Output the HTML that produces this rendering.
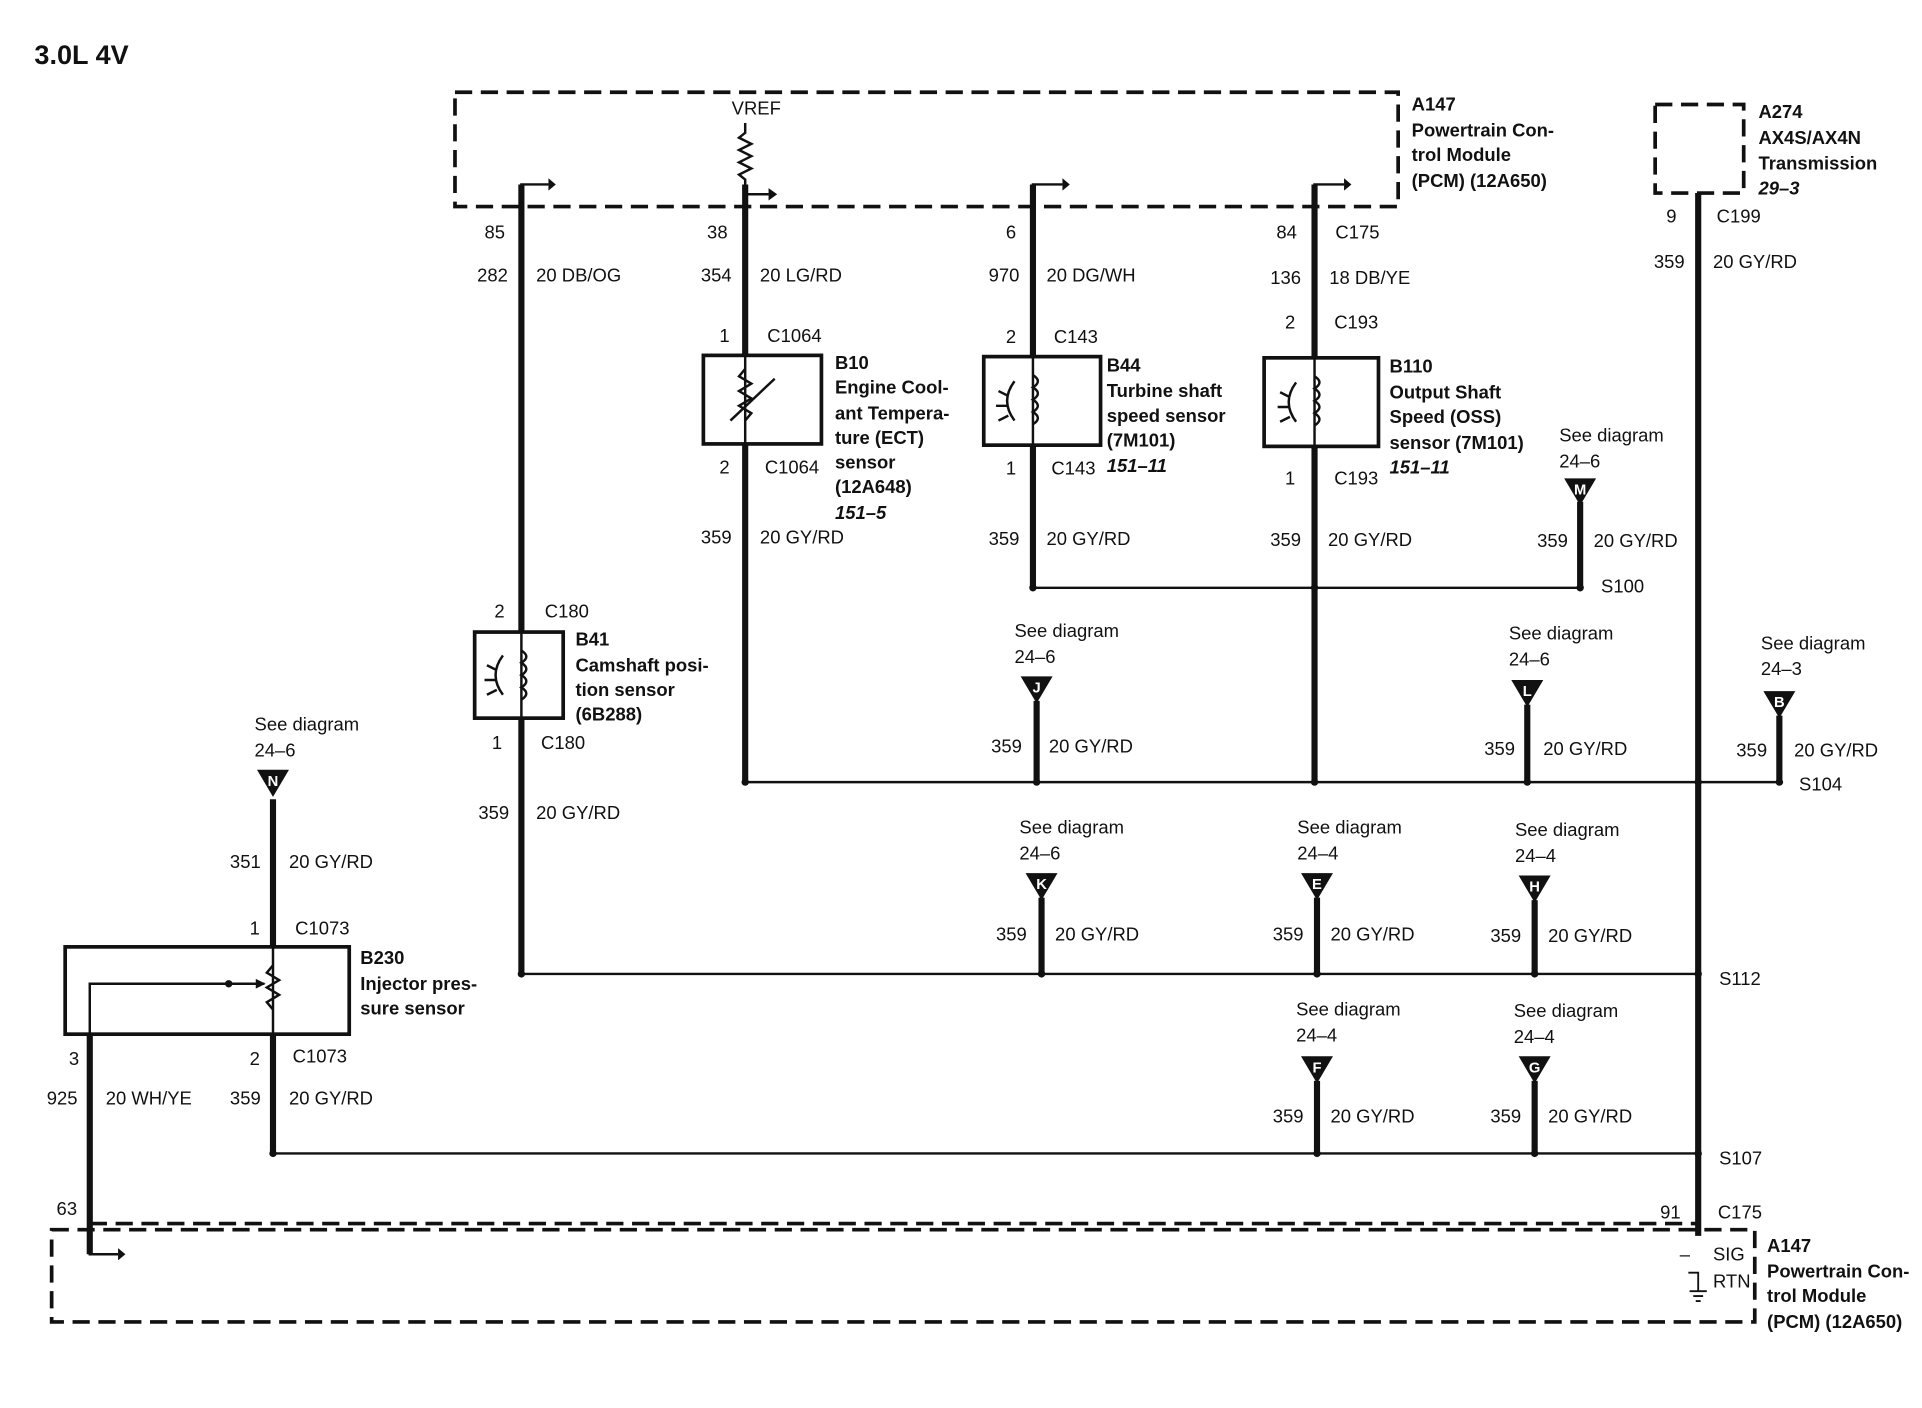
<!DOCTYPE html>
<html><head><meta charset="utf-8"><style>
html,body{margin:0;padding:0;background:#fff;}
svg{display:block}
text{font-family:"Liberation Sans",Arial,sans-serif;fill:#111;font-size:15px}
.b{font-weight:bold}
.i{font-weight:bold;font-style:italic}
</style></head><body>
<svg width="1922" height="1408" viewBox="0 0 1563 1145" preserveAspectRatio="none" xmlns="http://www.w3.org/2000/svg">
<defs>
<g id="tri"><path d="M-13,0 L13,0 L0,22 Z" fill="#111"/></g>
</defs>
<text x="28" y="52" class="b" font-size="22" style="font-size:22px">3.0L 4V</text>

<g fill="none" stroke="#111" stroke-width="3" stroke-dasharray="14,7">
<rect x="370" y="75" width="767" height="93"/>
<rect x="1346" y="85" width="72" height="72"/>
<rect x="42" y="1000" width="1385" height="75"/>
<line x1="73" y1="995" x2="1381" y2="995"/>
</g>

<g stroke="#111" stroke-width="5" fill="none">
<line x1="424" y1="150" x2="424" y2="514"/>
<line x1="424" y1="584" x2="424" y2="790"/>
<line x1="606" y1="150" x2="606" y2="289"/>
<line x1="606" y1="361" x2="606" y2="636"/>
<line x1="840" y1="150" x2="840" y2="290"/>
<line x1="840" y1="362" x2="840" y2="478"/>
<line x1="1069" y1="150" x2="1069" y2="291"/>
<line x1="1069" y1="363" x2="1069" y2="636"/>
<line x1="1381" y1="157" x2="1381" y2="1005"/>
<line x1="222" y1="650" x2="222" y2="770"/>
<line x1="222" y1="841" x2="222" y2="938"/>
<line x1="73" y1="841" x2="73" y2="1020"/>
<line x1="1285" y1="408" x2="1285" y2="478"/>
<line x1="843" y1="570" x2="843" y2="636"/>
<line x1="1242" y1="573" x2="1242" y2="636"/>
<line x1="1447" y1="582" x2="1447" y2="636"/>
<line x1="847" y1="730" x2="847" y2="792"/>
<line x1="1071" y1="730" x2="1071" y2="792"/>
<line x1="1248" y1="732" x2="1248" y2="792"/>
<line x1="1071" y1="879" x2="1071" y2="938"/>
<line x1="1248" y1="879" x2="1248" y2="938"/>
</g>
<g stroke="#111" stroke-width="2" fill="none">
<line x1="840" y1="478" x2="1285" y2="478"/>
<line x1="606" y1="636" x2="1450" y2="636"/>
<line x1="424" y1="792" x2="1381" y2="792"/>
<line x1="222" y1="938" x2="1381" y2="938"/>
<polyline points="606,100 606,108 601,112 611,117 601,122 611,127 601,132 611,137 601,142 606,146 606,150"/>
<polyline points="424,168 424,150 446,150"/>
<polyline points="606,158 625,158"/>
<polyline points="840,168 840,150 864,150"/>
<polyline points="1069,168 1069,150 1093,150"/>
<polyline points="73,1005 73,1020 96,1020"/>
</g>
<g fill="#111">
<path d="M446,145 L452,150 L446,155Z"/><path d="M625,153 L632,158 L625,163Z"/>
<path d="M864,145 L870,150 L864,155Z"/><path d="M1093,145 L1099,150 L1093,155Z"/>
<path d="M96,1015 L102,1020 L96,1025Z"/>
<circle cx="1285" cy="478" r="3"/><circle cx="840" cy="478" r="3"/><circle cx="1069" cy="478" r="3"/>
<circle cx="606" cy="636" r="3"/><circle cx="843" cy="636" r="3"/><circle cx="1069" cy="636" r="3"/><circle cx="1242" cy="636" r="3"/><circle cx="1381" cy="636" r="3"/><circle cx="1447" cy="636" r="3"/>
<circle cx="424" cy="792" r="3"/><circle cx="847" cy="792" r="3"/><circle cx="1071" cy="792" r="3"/><circle cx="1248" cy="792" r="3"/><circle cx="1381" cy="792" r="3"/>
<circle cx="222" cy="938" r="3"/><circle cx="1071" cy="938" r="3"/><circle cx="1248" cy="938" r="3"/><circle cx="1381" cy="938" r="3"/>
</g>

<g fill="#fff" stroke="#111" stroke-width="3">
<rect x="572" y="289" width="96" height="72"/>
<rect x="800" y="290" width="95" height="72"/>
<rect x="1028" y="291" width="93" height="72"/>
<rect x="386" y="514" width="72" height="70"/>
<rect x="53" y="770" width="231" height="71"/>
</g>
<g stroke="#111" stroke-width="2" fill="none">
<line x1="606" y1="289" x2="606" y2="361"/>
<polyline points="606,300 601,306 611,312 601,318 611,324 601,330 611,336 606,342"/>
<line x1="594" y1="342" x2="630" y2="308"/>
<line x1="840" y1="290" x2="840" y2="362"/><path d="M840,305 q8,5 0,10 q8,5 0,10 q8,5 0,10 q8,5 0,10"/>
<path d="M825,310 q-12,16 0,32 M812,318 l8,4 M810,330 l10,0 M812,342 l8,-4"/>
<line x1="1069" y1="291" x2="1069" y2="363"/><path d="M1069,306 q8,5 0,10 q8,5 0,10 q8,5 0,10 q8,5 0,10"/>
<path d="M1054,311 q-12,16 0,32 M1041,319 l8,4 M1039,331 l10,0 M1041,343 l8,-4"/>
<line x1="424" y1="514" x2="424" y2="584"/><path d="M424,529 q8,5 0,10 q8,5 0,10 q8,5 0,10 q8,5 0,10"/>
<path d="M409,533 q-12,16 0,32 M396,541 l8,4 M394,553 l10,0 M396,565 l8,-4"/>
<line x1="222" y1="770" x2="222" y2="841"/>
<polyline points="222,785 217,791 227,797 217,803 227,809 217,815 222,821"/>
<polyline points="215,800 73,800 73,841"/>
</g>
<path d="M208,796 L216,800 L208,804Z" fill="#111"/>
<circle cx="186" cy="800" r="3" fill="#111"/>

<g>
<use href="#tri" x="1285" y="389"/><use href="#tri" x="843" y="550"/><use href="#tri" x="1242" y="553"/><use href="#tri" x="1447" y="562"/>
<use href="#tri" x="222" y="626"/><use href="#tri" x="847" y="710"/><use href="#tri" x="1071" y="710"/><use href="#tri" x="1248" y="712"/>
<use href="#tri" x="1071" y="859"/><use href="#tri" x="1248" y="859"/>
</g>
<g text-anchor="middle">
<text x="1285" y="402" style="fill:#fff;font-size:12px;font-weight:bold">M</text><text x="843" y="563" style="fill:#fff;font-size:12px;font-weight:bold">J</text><text x="1242" y="566" style="fill:#fff;font-size:12px;font-weight:bold">L</text><text x="1447" y="575" style="fill:#fff;font-size:12px;font-weight:bold">B</text>
<text x="222" y="639" style="fill:#fff;font-size:12px;font-weight:bold">N</text><text x="847" y="723" style="fill:#fff;font-size:12px;font-weight:bold">K</text><text x="1071" y="723" style="fill:#fff;font-size:12px;font-weight:bold">E</text><text x="1248" y="725" style="fill:#fff;font-size:12px;font-weight:bold">H</text>
<text x="1071" y="872" style="fill:#fff;font-size:12px;font-weight:bold">F</text><text x="1248" y="872" style="fill:#fff;font-size:12px;font-weight:bold">G</text>
</g>

<text x="595" y="93">VREF</text>
<text class="b" x="1148" y="90">A147</text><text class="b" x="1148" y="111">Powertrain Con-</text><text class="b" x="1148" y="131">trol Module</text><text class="b" x="1148" y="152">(PCM) (12A650)</text>
<text class="b" x="1430" y="96">A274</text><text class="b" x="1430" y="117">AX4S/AX4N</text><text class="b" x="1430" y="138">Transmission</text><text class="i" x="1430" y="158">29–3</text>

<text x="394" y="194">85</text><text x="388" y="229">282</text><text x="436" y="229">20 DB/OG</text>
<text x="575" y="194">38</text><text x="570" y="229">354</text><text x="618" y="229">20 LG/RD</text>
<text x="818" y="194">6</text><text x="804" y="229">970</text><text x="851" y="229">20 DG/WH</text>
<text x="1038" y="194">84</text><text x="1086" y="194">C175</text><text x="1033" y="231">136</text><text x="1081" y="231">18 DB/YE</text>
<text x="1355" y="181">9</text><text x="1396" y="181">C199</text><text x="1345" y="218">359</text><text x="1393" y="218">20 GY/RD</text>

<text x="585" y="278">1</text><text x="624" y="278">C1064</text>
<text x="585" y="385">2</text><text x="622" y="385">C1064</text>
<text x="570" y="442">359</text><text x="618" y="442">20 GY/RD</text>
<text class="b" x="679" y="300">B10</text><text class="b" x="679" y="320">Engine Cool-</text><text class="b" x="679" y="341">ant Tempera-</text><text class="b" x="679" y="361">ture (ECT)</text><text class="b" x="679" y="381">sensor</text><text class="b" x="679" y="401">(12A648)</text><text class="i" x="679" y="422">151–5</text>

<text x="818" y="279">2</text><text x="857" y="279">C143</text>
<text x="818" y="386">1</text><text x="855" y="386">C143</text>
<text x="804" y="443">359</text><text x="851" y="443">20 GY/RD</text>
<text class="b" x="900" y="302">B44</text><text class="b" x="900" y="323">Turbine shaft</text><text class="b" x="900" y="343">speed sensor</text><text class="b" x="900" y="363">(7M101)</text><text class="i" x="900" y="384">151–11</text>

<text x="1045" y="267">2</text><text x="1085" y="267">C193</text>
<text x="1045" y="394">1</text><text x="1085" y="394">C193</text>
<text x="1033" y="444">359</text><text x="1080" y="444">20 GY/RD</text>
<text class="b" x="1130" y="303">B110</text><text class="b" x="1130" y="324">Output Shaft</text><text class="b" x="1130" y="344">Speed (OSS)</text><text class="b" x="1130" y="365">sensor (7M101)</text><text class="i" x="1130" y="385">151–11</text>

<text x="1268" y="359">See diagram</text><text x="1268" y="380">24–6</text>
<text x="1250" y="445">359</text><text x="1296" y="445">20 GY/RD</text><text x="1302" y="482">S100</text>

<text x="402" y="502">2</text><text x="443" y="502">C180</text>
<text x="400" y="609">1</text><text x="440" y="609">C180</text>
<text x="389" y="666">359</text><text x="436" y="666">20 GY/RD</text>
<text class="b" x="468" y="525">B41</text><text class="b" x="468" y="546">Camshaft posi-</text><text class="b" x="468" y="566">tion sensor</text><text class="b" x="468" y="586">(6B288)</text>

<text x="825" y="518">See diagram</text><text x="825" y="539">24–6</text>
<text x="806" y="612">359</text><text x="853" y="612">20 GY/RD</text>
<text x="1227" y="520">See diagram</text><text x="1227" y="541">24–6</text>
<text x="1207" y="614">359</text><text x="1255" y="614">20 GY/RD</text>
<text x="1432" y="528">See diagram</text><text x="1432" y="549">24–3</text>
<text x="1412" y="615">359</text><text x="1459" y="615">20 GY/RD</text><text x="1463" y="643">S104</text>

<text x="207" y="594">See diagram</text><text x="207" y="615">24–6</text>
<text x="187" y="706">351</text><text x="235" y="706">20 GY/RD</text>
<text x="203" y="760">1</text><text x="240" y="760">C1073</text>
<text class="b" x="293" y="784">B230</text><text class="b" x="293" y="805">Injector pres-</text><text class="b" x="293" y="825">sure sensor</text>

<text x="829" y="678">See diagram</text><text x="829" y="699">24–6</text>
<text x="810" y="765">359</text><text x="858" y="765">20 GY/RD</text>
<text x="1055" y="678">See diagram</text><text x="1055" y="699">24–4</text>
<text x="1035" y="765">359</text><text x="1082" y="765">20 GY/RD</text>
<text x="1232" y="680">See diagram</text><text x="1232" y="701">24–4</text>
<text x="1212" y="766">359</text><text x="1259" y="766">20 GY/RD</text>
<text x="1398" y="801">S112</text>

<text x="56" y="866">3</text><text x="203" y="866">2</text><text x="238" y="864">C1073</text>
<text x="38" y="898">925</text><text x="86" y="898">20 WH/YE</text>
<text x="187" y="898">359</text><text x="235" y="898">20 GY/RD</text>

<text x="1054" y="826">See diagram</text><text x="1054" y="847">24–4</text>
<text x="1035" y="913">359</text><text x="1082" y="913">20 GY/RD</text>
<text x="1231" y="827">See diagram</text><text x="1231" y="848">24–4</text>
<text x="1212" y="913">359</text><text x="1259" y="913">20 GY/RD</text>
<text x="1398" y="947">S107</text>

<text x="46" y="988">63</text>
<text x="1350" y="991">91</text><text x="1397" y="991">C175</text>
<text x="1366" y="1025">–</text><text x="1393" y="1025">SIG</text><text x="1393" y="1047">RTN</text>
<path d="M1373,1035 L1381,1035 L1381,1050 M1374,1050 h14 M1377,1054 h8 M1379,1058 h4" stroke="#111" stroke-width="1.5" fill="none"/>
<text class="b" x="1437" y="1018">A147</text><text class="b" x="1437" y="1039">Powertrain Con-</text><text class="b" x="1437" y="1059">trol Module</text><text class="b" x="1437" y="1080">(PCM) (12A650)</text>
</svg>
</body></html>
